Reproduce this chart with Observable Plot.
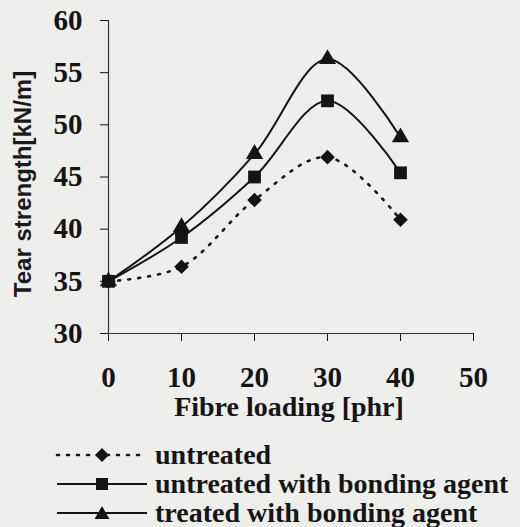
<!DOCTYPE html>
<html>
<head>
<meta charset="utf-8">
<script src="https://cdn.jsdelivr.net/npm/d3@7"></script>
<script src="https://cdn.jsdelivr.net/npm/@observablehq/plot@0.6"></script>
<style>
  html, body { margin: 0; padding: 0; background: #eeeeec; }
  #chart { width: 520px; height: 527px; position: relative; overflow: hidden; }
  #legend { position: absolute; left: 0; top: 440px; font-family: "Liberation Serif", "Times New Roman", serif; font-weight: bold; font-size: 28px; color: #151515; }
  .row { display: flex; align-items: center; height: 29px; }
  .row svg { display: block; margin-left: 55px; margin-right: 6px; }
</style>
</head>
<body>
<div id="chart"></div>
<script>
const fibreLoading = [0, 10, 20, 30, 40];
const untreated = [35.0, 36.4, 42.8, 46.9, 40.9];
const untreatedBonding = [35.0, 39.2, 45.0, 52.3, 45.4];
const treatedBonding = [35.0, 40.2, 47.2, 56.3, 48.8];
const seriesNames = ["untreated", "untreated with bonding agent", "treated with bonding agent"];
const xTicks = [0, 10, 20, 30, 40, 50];
const yTicks = [30, 35, 40, 45, 50, 55, 60];
const xLabel = "Fibre loading [phr]";
const yLabel = "Tear strength[kN/m]";

const seriesValues = [untreated, untreatedBonding, treatedBonding];
const data = seriesNames.flatMap((name, i) =>
  fibreLoading.map((x, j) => ({series: name, x, y: seriesValues[i][j]})));
const bySeries = name => data.filter(d => d.series === name);

const ink = "#141414";
const serif = "'Liberation Serif', 'Times New Roman', serif";

const plot = Plot.plot({
  width: 520,
  height: 440,
  marginLeft: 108,
  marginRight: 47,
  marginTop: 20,
  marginBottom: 107,
  style: {background: "transparent", color: ink, fontFamily: serif, fontWeight: "bold", fontSize: "29px"},
  x: {domain: [0, 50], ticks: xTicks, tickSize: 8, tickPadding: 25, label: null, tickFormat: d3.format("d")},
  y: {domain: [30, 60], ticks: yTicks, tickSize: 8, tickPadding: 18, label: null, tickFormat: d3.format("d")},
  marks: [
    Plot.ruleX([0], {y1: 30, y2: 60, stroke: "#333", strokeWidth: 1.2}),
    Plot.ruleY([30], {x1: 0, x2: 50, stroke: "#333", strokeWidth: 1.2}),
    Plot.line(bySeries(seriesNames[0]), {x: "x", y: "y", curve: "catmull-rom", stroke: ink, strokeWidth: 2.6, strokeDasharray: "2,8", strokeLinecap: "round"}),
    Plot.line(bySeries(seriesNames[1]), {x: "x", y: "y", curve: "catmull-rom", stroke: ink, strokeWidth: 2}),
    Plot.line(bySeries(seriesNames[2]), {x: "x", y: "y", curve: "catmull-rom", stroke: ink, strokeWidth: 2}),
    Plot.dot(bySeries(seriesNames[0]), {x: "x", y: "y", symbol: "diamond2", r: 6.6, fill: ink, stroke: "none"}),
    Plot.dot(bySeries(seriesNames[1]), {x: "x", y: "y", symbol: "square", r: 7.2, fill: ink, stroke: "none"}),
    Plot.dot(bySeries(seriesNames[2]), {x: "x", y: "y", symbol: "triangle", r: 6.4, fill: ink, stroke: "none"}),
    Plot.text([yLabel], {frameAnchor: "left", textAnchor: "middle", dx: -85, dy: 7, rotate: -90, fontFamily: "'Liberation Sans', Arial, sans-serif", fontWeight: "bold", fontSize: 24, fill: "#1a1a1a"}),
    Plot.text([xLabel], {frameAnchor: "bottom", dx: -2, dy: 82, fontFamily: serif, fontWeight: "bold", fontSize: 28, fill: ink})
  ]
});

const chart = document.getElementById("chart");
chart.appendChild(plot);

// legend (HTML below the SVG)
const legend = document.createElement("div");
legend.id = "legend";
const legendStyles = [
  {dash: "2,8", marker: "diamond"},
  {dash: null, marker: "square"},
  {dash: null, marker: "triangle"}
];
seriesNames.forEach((name, i) => {
  const row = document.createElement("div");
  row.className = "row";
  const st = legendStyles[i];
  const w = 94, h = 20, cx = 47, cy = 10;
  let marker = "";
  if (st.marker === "diamond") marker = `<path d="M${cx},${cy-7}L${cx+7},${cy}L${cx},${cy+7}L${cx-7},${cy}Z" fill="${ink}"/>`;
  if (st.marker === "square") marker = `<rect x="${cx-6}" y="${cy-6}" width="12" height="12" fill="${ink}"/>`;
  if (st.marker === "triangle") marker = `<path d="M${cx},${cy-7}L${cx+7.5},${cy+6}L${cx-7.5},${cy+6}Z" fill="${ink}"/>`;
  row.innerHTML = `<svg width="${w}" height="${h}"><line x1="2" y1="${cy}" x2="${w-2}" y2="${cy}" stroke="${ink}" stroke-width="${st.dash ? 2.6 : 2}" ${st.dash ? `stroke-dasharray="${st.dash}" stroke-linecap="round"` : ""}/>${marker}</svg><span>${name}</span>`;
  legend.appendChild(row);
});
chart.appendChild(legend);
</script>
</body>
</html>
